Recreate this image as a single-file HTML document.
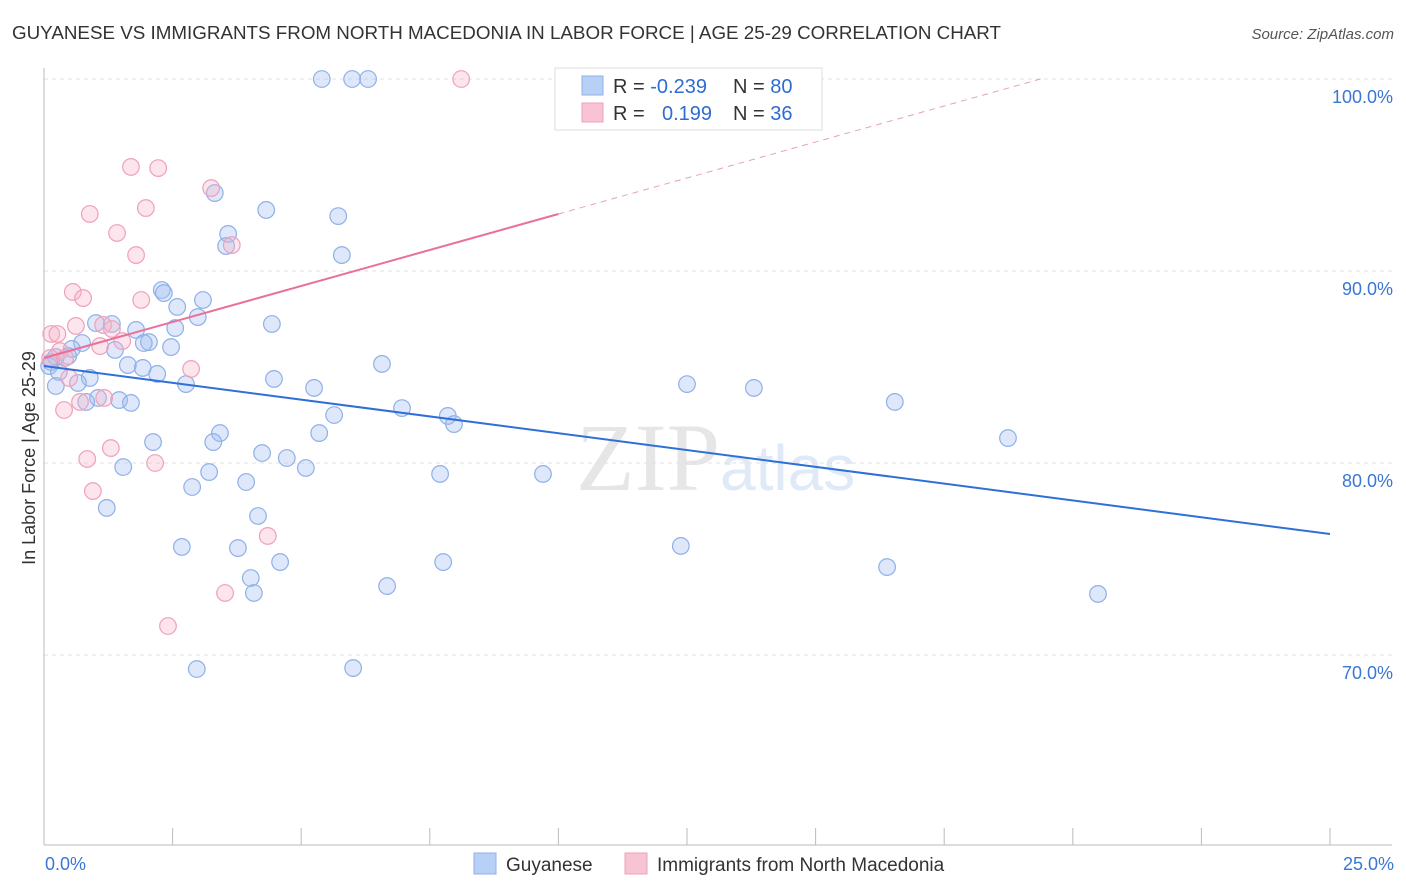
<!DOCTYPE html>
<html><head><meta charset="utf-8">
<style>
body{margin:0;background:#fff;font-family:"Liberation Sans",sans-serif;}
svg{display:block}
</style></head>
<body>
<svg id="chart" width="1406" height="892">
<text x="12" y="39" font-size="18" fill="#333" textLength="989" lengthAdjust="spacingAndGlyphs">GUYANESE VS IMMIGRANTS FROM NORTH MACEDONIA IN LABOR FORCE | AGE 25-29 CORRELATION CHART</text>
<text x="1394" y="39" font-size="15" fill="#555" font-style="italic" text-anchor="end">Source: ZipAtlas.com</text>
<text x="720" y="490" font-size="96" fill="#e6e6e6" text-anchor="end" font-family="Liberation Serif">ZIP</text>
<text x="720" y="490" font-size="64" fill="#dfe9f7">atlas</text>
<g id="grid"></g>
<g id="axes"></g>
<g id="marks"></g>
<text x="35" y="458" font-size="18" fill="#333" text-anchor="middle" transform="rotate(-90 35 458)">In Labor Force | Age 25-29</text>
<g>
<rect x="555" y="68" width="267" height="62" fill="#fff" stroke="#ddd"/>
<rect x="582" y="76" width="21" height="19" fill="#b7d0f5" stroke="#8fb0e8"/>
<rect x="582" y="103" width="21" height="19" fill="#f8c4d4" stroke="#f0a0bb"/>
<text x="613" y="93" font-size="20" fill="#333">R = <tspan fill="#2f6ccf">-0.239</tspan></text>
<text x="733" y="93" font-size="20" fill="#333">N = <tspan fill="#2f6ccf">80</tspan></text>
<text x="613" y="120" font-size="20" fill="#333">R = </text>
<text x="662" y="120" font-size="20" fill="#2f6ccf">0.199</text>
<text x="733" y="120" font-size="20" fill="#333">N = <tspan fill="#2f6ccf">36</tspan></text>
</g>
<g>
<rect x="474" y="853" width="22" height="21" fill="#b7d0f5" stroke="#8fb0e8"/>
<text x="506" y="871" font-size="19" fill="#333">Guyanese</text>
<rect x="625" y="853" width="22" height="21" fill="#f8c4d4" stroke="#f0a0bb"/>
<text x="657" y="871" font-size="19" fill="#333">Immigrants from North Macedonia</text>
</g>
</svg>
<script>
const yTicks=[100,90,80,70];
const blueX=[5.40,5.99,6.30,3.32,4.32,5.72,3.58,3.54,5.79,2.29,2.33,3.09,2.59,2.99,1.01,1.32,4.43,1.79,2.55,0.74,2.04,1.94,2.47,0.54,1.38,0.47,0.23,0.14,0.10,1.63,6.57,1.92,2.20,0.29,0.89,4.47,2.76,0.66,0.23,12.50,13.80,5.25,1.05,1.46,1.69,0.82,16.54,6.96,5.64,7.85,7.97,3.42,5.35,18.74,2.12,3.29,4.24,4.72,5.09,1.54,3.21,7.70,9.70,3.93,2.88,1.22,4.16,2.68,3.77,12.38,7.76,4.59,16.39,4.02,6.67,4.08,20.49,2.97,6.01];
const blueY=[100,100,100,94.06,93.18,92.86,91.93,91.30,90.83,89.01,88.85,88.49,88.13,87.60,87.29,87.24,87.24,86.93,87.03,86.25,86.30,86.25,86.04,85.94,85.89,85.57,85.52,85.26,85.05,85.10,85.16,84.95,84.64,84.74,84.43,84.38,84.11,84.17,84.01,84.11,83.91,83.91,83.39,83.28,83.13,83.18,83.18,82.86,82.50,82.45,82.03,81.56,81.56,81.30,81.09,81.09,80.52,80.26,79.74,79.79,79.53,79.43,79.43,79.01,78.75,77.66,77.24,75.63,75.57,75.68,74.84,74.84,74.58,74.01,73.59,73.23,73.18,69.27,69.32];
const pinkX=[8.11,1.69,2.22,3.25,1.98,0.89,1.42,3.65,1.79,0.56,0.76,1.89,0.62,1.15,1.32,0.14,0.26,1.52,1.09,0.31,0.12,0.41,2.86,0.49,1.17,0.70,0.39,1.30,0.84,2.16,0.95,4.35,3.52,2.41];
const pinkY=[100,95.42,95.36,94.32,93.28,92.97,91.98,91.35,90.83,88.91,88.59,88.49,87.14,87.19,86.98,86.72,86.72,86.35,86.09,85.83,85.47,85.47,84.90,84.43,83.39,83.18,82.76,80.78,80.21,80.00,78.54,76.20,73.23,71.51];
const blueTrend=[85.05,76.3];
const pinkTrend=[85.47,92.97];
const X=v=>44+v*51.44, Y=v=>79+(100-v)*19.2;
const NS='http://www.w3.org/2000/svg';
function mk(tag,attrs,parent){const e=document.createElementNS(NS,tag);for(const k in attrs)e.setAttribute(k,attrs[k]);document.getElementById(parent).appendChild(e);return e;}
yTicks.forEach(t=>{
 const l=mk('line',{x1:44,x2:1392,y1:Y(t),y2:Y(t),stroke:'#e2e2e2','stroke-dasharray':'4,4'},'grid');
 
 
 const tx=mk('text',{x:1393,y:Y(t)+24,'font-size':18,fill:'#3a76d6','text-anchor':'end'},'grid');
 tx.textContent=t.toFixed(1)+'%';
 
 
});
mk('line',{x1:44,x2:44,y1:68,y2:845,stroke:'#bbb'},'axes');
mk('line',{x1:44,x2:1392,y1:845,y2:845,stroke:'#bbb'},'axes');
for(let i=1;i<=10;i++){mk('line',{x1:X(i*2.5),x2:X(i*2.5),y1:828,y2:845,stroke:'#bbb'},'axes');}
let t0=mk('text',{x:45,y:870,'font-size':18,fill:'#3a76d6'},'axes');t0.textContent='0.0%';


let t1=mk('text',{x:1394,y:870,'font-size':18,fill:'#3a76d6','text-anchor':'end'},'axes');t1.textContent='25.0%';


blueX.forEach((x,i)=>{const c=mk('circle',{cx:X(x),cy:Y(blueY[i]),r:8.3,fill:'rgba(160,190,240,0.35)',stroke:'#8fb0e8','stroke-width':1.2},'marks');
 
 });
pinkX.forEach((x,i)=>{const c=mk('circle',{cx:X(x),cy:Y(pinkY[i]),r:8.3,fill:'rgba(245,180,200,0.35)',stroke:'#f0a0bb','stroke-width':1.2},'marks');
 
 });
const bl=mk('line',{x1:X(0),y1:Y(blueTrend[0]),x2:X(25),y2:Y(blueTrend[1]),stroke:'#2f6fd8','stroke-width':2},'marks');


const slope=(pinkTrend[1]-pinkTrend[0])/10, xEnd=(100-pinkTrend[0])/slope;
const pl=mk('line',{x1:X(0),y1:Y(pinkTrend[0]),x2:X(10),y2:Y(pinkTrend[1]),stroke:'#e8709a','stroke-width':2},'marks');


const pd=mk('line',{x1:X(10),y1:Y(pinkTrend[1]),x2:X(xEnd),y2:Y(100),stroke:'#e8a0b8','stroke-width':1,'stroke-dasharray':'6,5'},'marks');


</script>
</body></html>
